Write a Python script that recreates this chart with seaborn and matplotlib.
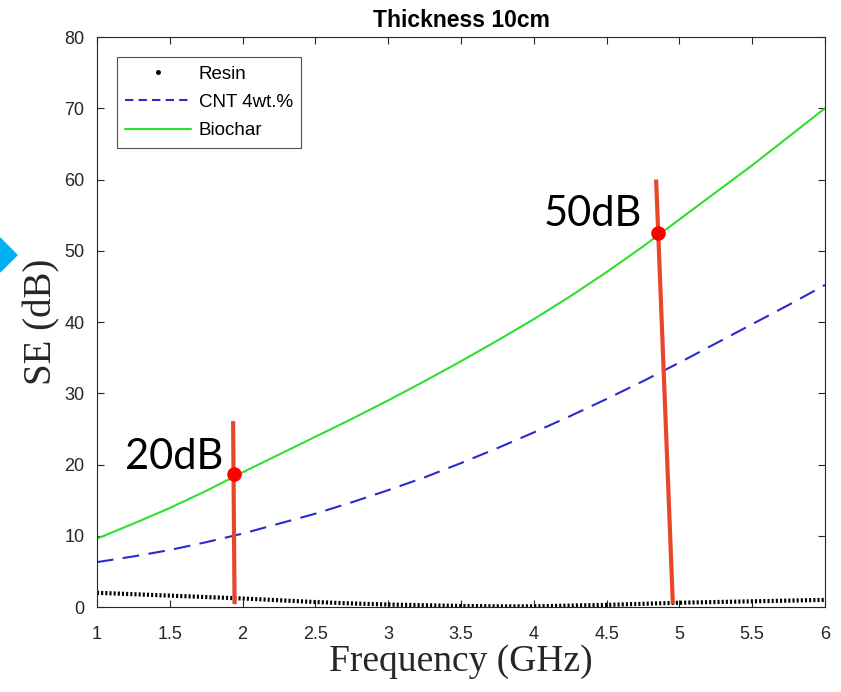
import numpy as np
import pandas as pd
import seaborn as sns
import matplotlib.pyplot as plt
from matplotlib.lines import Line2D
from matplotlib.patches import Polygon

# values
freq = [1.0, 1.25, 1.5, 1.75, 2.0, 2.25, 2.5, 2.75, 3.0, 3.25, 3.5,
        3.75, 4.0, 4.25, 4.5, 4.75, 5.0, 5.25, 5.5, 5.75, 6.0]
resin = [2.0, 1.8, 1.6, 1.4, 1.2, 0.95, 0.7, 0.5, 0.35, 0.25, 0.15,
         0.1, 0.1, 0.2, 0.3, 0.45, 0.6, 0.7, 0.8, 0.9, 1.0]
cnt = [6.3, 7.1, 8.0, 9.1, 10.3, 11.7, 13.1, 14.7, 16.4, 18.2, 20.2,
       22.3, 24.5, 26.8, 29.2, 31.7, 34.3, 37.0, 39.7, 42.4, 45.2]
biochar = [9.6, 11.7, 13.9, 16.3, 18.9, 21.4, 23.9, 26.4, 29.0, 31.7, 34.5,
           37.4, 40.4, 43.6, 47.0, 50.6, 54.4, 58.2, 62.0, 66.0, 70.0]

# red marker lines (x0, y0, x1, y1) and dots
mark_lines = [(1.935, 26.1, 1.945, 0.4), (4.84, 60.0, 4.955, 0.4)]
mark_dots_x = [1.94, 4.855]
mark_dots_y = [18.6, 52.5]
mark_text = ["20dB", "50dB"]

df = pd.DataFrame({"freq": freq, "Resin": resin, "CNT 4wt.%": cnt, "Biochar": biochar})

sns.set_style("ticks")
plt.rcParams["font.family"] = ["Liberation Sans", "DejaVu Sans"]

fig = plt.figure(figsize=(8.41, 6.92), dpi=100)
ax = fig.add_axes([0.1153, 0.1228, 0.8657, 0.8237])

sns.lineplot(data=df, x="freq", y="Resin", ax=ax, color="black",
             linestyle=(0, (0.5, 0.5)), linewidth=3)
sns.lineplot(data=df, x="freq", y="CNT 4wt.%", ax=ax, color="#2a2ad0",
             linestyle=(0, (8, 4.5)), linewidth=1.5)
sns.lineplot(data=df, x="freq", y="Biochar", ax=ax, color="#2ee02e", linewidth=1.5)

for x0, y0, x1, y1 in mark_lines:
    ax.plot([x0, x1], [y0, y1], color="#e8462a", linewidth=3, solid_capstyle="butt", zorder=5)
ax.scatter(mark_dots_x, mark_dots_y, s=110, color="#ff0000", zorder=6, linewidths=0)
ax.text(1.87, 21.0, mark_text[0], fontsize=30, family="Lato", color="black",
        ha="right", va="center")
ax.text(4.74, 55.1, mark_text[1], fontsize=30, family="Lato", color="black",
        ha="right", va="center")

ax.set_xlim(1, 6)
ax.set_ylim(0, 80)
ax.set_xticks([1, 1.5, 2, 2.5, 3, 3.5, 4, 4.5, 5, 5.5, 6])
ax.set_xticklabels(["1", "1.5", "2", "2.5", "3", "3.5", "4", "4.5", "5", "5.5", "6"])
ax.set_yticks(range(0, 81, 10))
ax.tick_params(direction="in", top=True, right=True, length=5, width=0.8,
               labelsize=13, colors="#262626")
ax.tick_params(axis="x", pad=14)
ax.tick_params(axis="y", pad=9)
for s in ax.spines.values():
    s.set_color("#262626")
    s.set_linewidth(0.8)

ax.set_xlabel("Frequency (GHz)", family="Liberation Serif", fontsize=27, color="#262626", labelpad=1)
ax.set_ylabel("SE (dB)", family="Liberation Serif", fontsize=28, color="#262626", labelpad=3)
ax.set_title("Thickness 10cm", fontsize=16.5, fontweight="bold", color="black", pad=7)

handles = [
    Line2D([], [], color="black", marker=".", markersize=5, linestyle="none"),
    Line2D([], [], color="#2a2ad0", linestyle=(0, (4, 2.5)), linewidth=1.5),
    Line2D([], [], color="#2ee02e", linewidth=1.5),
]
leg = ax.legend(handles, ["Resin", "CNT 4wt.%", "Biochar"], loc="upper left",
                bbox_to_anchor=(0.0275, 0.965), fontsize=13.5, frameon=True, fancybox=False,
                edgecolor="#262626", handlelength=3.5, handletextpad=0.4,
                borderpad=0.45, labelspacing=0.6, borderaxespad=0)
leg.get_frame().set_linewidth(0.8)
for t in leg.get_texts():
    t.set_color("black")

# blue arrow-like shape cut off at the left edge
W, H = 841, 692
tri = Polygon([(0 / W, 1 - 238 / H), (17 / W, 1 - 255 / H), (0 / W, 1 - 272 / H)],
              closed=True, transform=fig.transFigure, color="#00b0f0")
fig.patches.append(tri)

fig.savefig("out.png", dpi=100)
